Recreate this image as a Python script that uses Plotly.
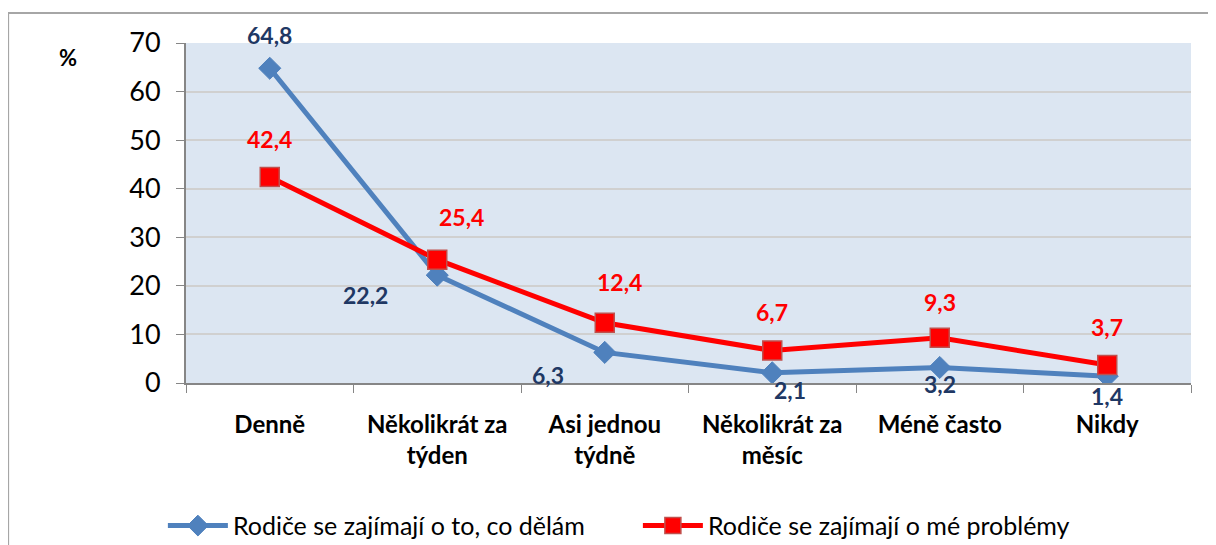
import plotly.graph_objects as go

categories = ["Denně", "Několikrát za<br>týden", "Asi jednou<br>týdně", "Několikrát za<br>měsíc", "Méně často", "Nikdy"]
series_blue_name = "Rodiče se zajímají o to, co dělám"
series_red_name = "Rodiče se zajímají o mé problémy"
blue_values = [64.8, 22.2, 6.3, 2.1, 3.2, 1.4]
red_values = [42.4, 25.4, 12.4, 6.7, 9.3, 3.7]
y_ticks = [0, 10, 20, 30, 40, 50, 60, 70]

# label offsets (pixels) for the data labels
blue_label_shift = [(0, 33), (-72, -20), (-57, -23), (18, -17), (0, -17), (0, -20)]
red_label_shift = [(0, 38), (24, 43), (15, 41), (0, 38), (0, 36), (0, 38)]

FONT = "Lato"
BLUE = "#4F81BD"
BLUE_TXT = "#1F3864"
RED = "#FF0000"

fig = go.Figure()
fig.add_trace(go.Scatter(
    x=categories, y=blue_values, name=series_blue_name, mode="lines+markers",
    line=dict(color=BLUE, width=5),
    marker=dict(symbol="diamond", size=17, color=BLUE, line=dict(color=BLUE, width=1)),
))
fig.add_trace(go.Scatter(
    x=categories, y=red_values, name=series_red_name, mode="lines+markers",
    line=dict(color=RED, width=5),
    marker=dict(symbol="square", size=19, color=RED, line=dict(color="#C0504D", width=1.5)),
))

def fmt(v):
    return f"{v:.1f}".replace(".", ",")

for c, v, (dx, dy) in zip(categories, blue_values, blue_label_shift):
    fig.add_annotation(x=c, y=v, text=f"<b>{fmt(v)}</b>", showarrow=False,
                       xshift=dx, yshift=dy, font=dict(family=FONT, size=23, color=BLUE_TXT))
for c, v, (dx, dy) in zip(categories, red_values, red_label_shift):
    fig.add_annotation(x=c, y=v, text=f"<b>{fmt(v)}</b>", showarrow=False,
                       xshift=dx, yshift=dy, font=dict(family=FONT, size=23, color=RED))

fig.add_annotation(xref="paper", yref="paper", x=-0.1174, y=0.956, text="<b>%</b>",
                   xanchor="center", yanchor="middle",
                   showarrow=False, font=dict(family=FONT, size=22, color="black"))

# outer chart frame
fig.add_shape(type="rect", xref="paper", yref="paper", x0=-0.177, x1=1.1, y0=-0.6, y1=1.088,
              line=dict(color="#A6A6A6", width=2), fillcolor="rgba(0,0,0,0)", layer="below")

fig.update_layout(
    width=1216, height=545,
    margin=dict(l=178, r=33, t=35, b=170, autoexpand=False),
    paper_bgcolor="white", plot_bgcolor="#DCE6F2",
    font=dict(family=FONT, size=20, color="black"),
    showlegend=True,
    legend=dict(orientation="h", x=-0.023, xanchor="left", y=-0.42, yanchor="middle",
                font=dict(family=FONT, size=25, color="black"),
                itemwidth=60, entrywidthmode="pixels", entrywidth=400),
)
fig.update_xaxes(
    type="category", range=[-0.5, 5.5], tickson="boundaries",
    ticks="outside", ticklen=8, tickcolor="#868686",
    showline=True, linecolor="#868686", linewidth=2,
    showgrid=False, tickfont=dict(family=FONT, size=24, color="black", weight="bold"),
    ticklabelstandoff=19,
)
fig.update_yaxes(
    range=[0, 70], tickvals=y_ticks, ticks="outside", ticklen=8, tickcolor="#868686",
    showline=True, linecolor="#868686", linewidth=2,
    showgrid=True, gridcolor="#D0D0D0", gridwidth=1.5, zeroline=False,
    tickfont=dict(family=FONT, size=27, color="black"), ticklabelstandoff=10,
)

fig.write_html("out.html")
